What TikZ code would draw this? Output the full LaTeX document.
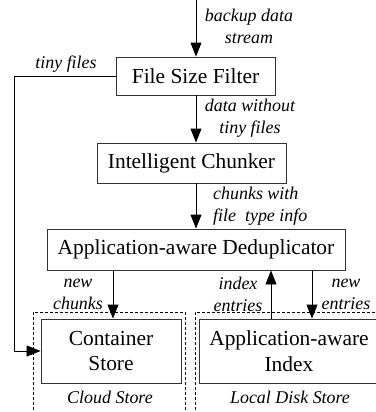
\documentclass[tikz,border=0pt]{standalone}
\usepackage{fontspec}
\setmainfont{Liberation Serif}
\usetikzlibrary{arrows.meta}
\begin{document}
\begin{tikzpicture}[x=1bp,y=-1bp,
  box/.style={draw=black!80,line width=0.9bp,inner sep=0pt,align=center,
    font=\fontsize{21.5}{26}\selectfont},
  lbl/.style={inner sep=0pt,align=center,font=\fontsize{18}{22}\selectfont\itshape},
  arr/.style={line width=0.9bp,-{Triangle[length=14bp,width=11bp]}},
  conn/.style={line width=0.9bp},
  zone/.style={line width=0.8bp,dash pattern=on 3bp off 2bp}]
\useasboundingbox (0,0) rectangle (376,412);

% processing stages
\node[box,minimum width=159bp,minimum height=38bp] (fsf) at (195.5,76) {File Size Filter};
\node[box,minimum width=189bp,minimum height=40bp] (ic) at (191.5,163) {Intelligent Chunker};
\node[box,minimum width=298bp,minimum height=41bp] (aad) at (196,249.5) {Application-aware Deduplicator};
\node[box,minimum width=140bp,minimum height=64bp] (cs) at (111,351) {Container\\Store};
\node[box,minimum width=180bp,minimum height=64bp] (aai) at (289,351) {Application-aware\\Index};

% storage zones (open at the bottom and right)
\draw[zone] (33,415) |- (185,312) -- (185,415);
\draw[zone] (195,415) |- (382,312);
\node[lbl] (cloud) at (110,397) {Cloud Store};
\node[lbl] (local) at (290,397) {Local Disk Store};

% helper coordinates
\coordinate (in) at (196,0);
\coordinate (xnc) at (113,0);
\coordinate (xie) at (271,0);
\coordinate (xne) at (312,0);
\coordinate (xtf) at (14,0);

% data flow
\draw[arr] (in) -- (in |- fsf.north);
\draw[arr] (in |- fsf.south) -- (in |- ic.north);
\draw[arr] (in |- ic.south) -- (in |- aad.north);
\draw[arr] (fsf.west) -- (xtf |- fsf.west) |- (cs.west);
\draw[arr] (xnc |- aad.south) -- (xnc |- cs.north);
\draw[arr] (xie |- aai.north) -- (xie |- aad.south);
\draw[arr] (xne |- aad.south) -- (xne |- aai.north);

% flow labels
\node[lbl] (l1) at (249,26) {backup data\\stream};
\node[lbl] (l2) at (66,64) {tiny files};
\node[lbl] (l3) at (250,118) {data without\\tiny files};
\node[lbl,align=left,anchor=west] (l4) at (213,206) {chunks with\\file\ \ type info};
\node[lbl] (l5) at (78,294) {new\\chunks};
\node[lbl] (l6) at (238,294) {index\\entries};
\node[lbl] (l7) at (346,294) {new\\entries};
\end{tikzpicture}
\end{document}
